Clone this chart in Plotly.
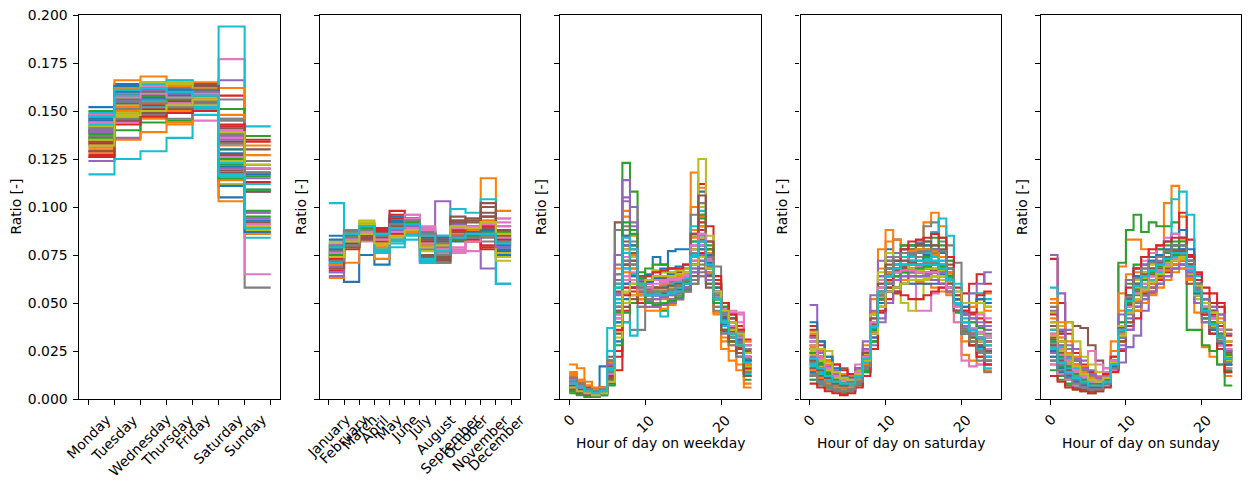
import plotly.graph_objects as go

# ---------------- data ----------------
day_labels = ["Monday", "Tuesday", "Wednesday", "Thursday", "Friday", "Saturday", "Sunday"]
month_labels = ["January", "February", "March", "April", "May", "June", "July",
                "August", "September", "October", "November", "December"]
hour_tick_labels = ["0", "10", "20"]
hour_tick_values = [0, 10, 20]
ratio_ticks = [0.0, 0.025, 0.05, 0.075, 0.1, 0.125, 0.15, 0.175, 0.2]

# ratio per day of week (Mon..Sun), one row per station
weekday_ratio = [
    [0.152, 0.164, 0.160, 0.158, 0.161, 0.105, 0.089],
    [0.130, 0.166, 0.168, 0.166, 0.165, 0.114, 0.091],
    [0.145, 0.156, 0.162, 0.157, 0.158, 0.124, 0.098],
    [0.139, 0.153, 0.156, 0.152, 0.155, 0.158, 0.087],
    [0.124, 0.136, 0.150, 0.155, 0.160, 0.166, 0.109],
    [0.142, 0.158, 0.160, 0.163, 0.164, 0.118, 0.092],
    [0.138, 0.145, 0.148, 0.150, 0.145, 0.177, 0.097],
    [0.136, 0.160, 0.165, 0.162, 0.163, 0.156, 0.058],
    [0.143, 0.155, 0.161, 0.165, 0.160, 0.112, 0.088],
    [0.117, 0.125, 0.129, 0.136, 0.148, 0.194, 0.142],
    [0.148, 0.163, 0.158, 0.150, 0.152, 0.111, 0.118],
    [0.126, 0.135, 0.139, 0.143, 0.150, 0.162, 0.137],
    [0.150, 0.156, 0.163, 0.159, 0.155, 0.122, 0.095],
    [0.126, 0.149, 0.153, 0.152, 0.158, 0.142, 0.120],
    [0.141, 0.150, 0.152, 0.156, 0.158, 0.135, 0.108],
    [0.135, 0.148, 0.155, 0.158, 0.163, 0.117, 0.124],
    [0.133, 0.144, 0.147, 0.150, 0.156, 0.146, 0.124],
    [0.134, 0.145, 0.152, 0.153, 0.152, 0.146, 0.118],
    [0.137, 0.153, 0.157, 0.152, 0.158, 0.130, 0.113],
    [0.140, 0.161, 0.164, 0.166, 0.162, 0.123, 0.084],
    [0.145, 0.152, 0.154, 0.151, 0.153, 0.128, 0.117],
    [0.146, 0.162, 0.165, 0.163, 0.162, 0.103, 0.086],
    [0.132, 0.140, 0.144, 0.145, 0.151, 0.151, 0.137],
    [0.129, 0.147, 0.151, 0.149, 0.152, 0.138, 0.134],
    [0.144, 0.158, 0.160, 0.161, 0.159, 0.121, 0.097],
    [0.140, 0.151, 0.149, 0.155, 0.156, 0.127, 0.122],
    [0.148, 0.160, 0.163, 0.160, 0.161, 0.140, 0.065],
    [0.139, 0.150, 0.156, 0.151, 0.157, 0.138, 0.109],
    [0.142, 0.149, 0.162, 0.164, 0.157, 0.124, 0.090],
    [0.143, 0.159, 0.152, 0.149, 0.151, 0.134, 0.112],
    [0.147, 0.154, 0.157, 0.158, 0.154, 0.130, 0.093],
    [0.128, 0.152, 0.146, 0.144, 0.150, 0.148, 0.132],
    [0.136, 0.155, 0.160, 0.157, 0.161, 0.115, 0.116],
    [0.127, 0.158, 0.153, 0.155, 0.160, 0.134, 0.113],
    [0.139, 0.148, 0.155, 0.152, 0.154, 0.137, 0.115],
    [0.134, 0.157, 0.159, 0.160, 0.163, 0.119, 0.108],
    [0.144, 0.146, 0.150, 0.154, 0.150, 0.136, 0.120],
    [0.141, 0.146, 0.148, 0.146, 0.150, 0.145, 0.124],
    [0.135, 0.147, 0.165, 0.165, 0.153, 0.126, 0.109],
    [0.149, 0.158, 0.155, 0.160, 0.152, 0.117, 0.109],
    [0.146, 0.160, 0.157, 0.161, 0.160, 0.121, 0.087],
    [0.131, 0.150, 0.154, 0.150, 0.156, 0.132, 0.127],
    [0.138, 0.156, 0.158, 0.156, 0.158, 0.125, 0.109],
    [0.133, 0.143, 0.147, 0.149, 0.150, 0.143, 0.135],
    [0.140, 0.155, 0.161, 0.159, 0.160, 0.120, 0.094],
    [0.129, 0.145, 0.149, 0.151, 0.155, 0.141, 0.130],
    [0.144, 0.157, 0.159, 0.157, 0.159, 0.126, 0.091],
    [0.137, 0.151, 0.154, 0.152, 0.155, 0.133, 0.118],
    [0.132, 0.148, 0.150, 0.153, 0.156, 0.139, 0.122],
    [0.147, 0.161, 0.162, 0.160, 0.158, 0.116, 0.089],
]

# ratio per month (Jan..Dec), one row per station
month_ratio = [
    [.085, .061, .075, .070, .093, .094, .088, .085, .091, .089, .095, .060],
    [.063, .071, .083, .073, .085, .090, .080, .078, .087, .088, .115, .084],
    [.076, .081, .088, .084, .086, .090, .079, .078, .088, .090, .089, .082],
    [.067, .078, .084, .089, .098, .094, .084, .083, .086, .084, .079, .083],
    [.064, .083, .084, .080, .086, .088, .078, .103, .087, .083, .068, .080],
    [.072, .084, .085, .082, .088, .089, .071, .071, .093, .094, .100, .090],
    [.074, .088, .082, .087, .089, .096, .089, .077, .076, .077, .086, .094],
    [.079, .086, .091, .086, .083, .087, .083, .071, .083, .085, .085, .082],
    [.082, .084, .092, .085, .084, .090, .077, .080, .090, .082, .086, .077],
    [.102, .081, .086, .076, .079, .083, .071, .085, .099, .097, .104, .060],
    [.080, .085, .087, .083, .095, .091, .087, .084, .082, .086, .087, .075],
    [.068, .082, .090, .078, .086, .087, .083, .083, .084, .085, .088, .098],
    [.075, .079, .086, .082, .087, .091, .082, .079, .090, .089, .092, .084],
    [.069, .081, .084, .088, .096, .094, .085, .081, .087, .084, .078, .087],
    [.070, .083, .089, .084, .090, .092, .086, .076, .089, .087, .088, .079],
    [.073, .080, .083, .083, .087, .088, .074, .073, .095, .094, .102, .088],
    [.077, .085, .087, .085, .092, .096, .090, .079, .077, .083, .087, .094],
    [.078, .088, .091, .084, .087, .089, .087, .076, .084, .086, .082, .081],
    [.080, .083, .093, .080, .087, .089, .084, .078, .086, .088, .085, .072],
    [.066, .079, .086, .076, .083, .087, .071, .080, .089, .089, .093, .083],
    [.083, .080, .088, .085, .094, .090, .083, .082, .086, .087, .086, .077],
    [.071, .081, .089, .081, .086, .086, .082, .078, .084, .087, .093, .086],
    [.077, .082, .085, .084, .086, .091, .080, .080, .092, .088, .090, .081],
    [.072, .079, .086, .085, .092, .093, .084, .083, .083, .082, .086, .085],
    [.066, .081, .085, .086, .089, .090, .084, .077, .091, .085, .090, .083],
    [.075, .082, .084, .082, .088, .090, .072, .072, .093, .092, .097, .087],
    [.081, .087, .085, .086, .089, .093, .086, .076, .078, .084, .086, .090],
    [.076, .086, .089, .083, .086, .088, .085, .074, .085, .087, .085, .086],
    [.078, .085, .090, .083, .085, .087, .082, .079, .087, .086, .088, .074],
    [.071, .082, .087, .078, .082, .086, .073, .081, .088, .090, .091, .082],
    [.079, .084, .086, .084, .092, .092, .086, .083, .085, .085, .087, .078],
    [.068, .080, .088, .079, .085, .087, .080, .079, .086, .086, .092, .085],
    [.074, .081, .089, .083, .087, .089, .081, .079, .089, .090, .088, .083],
    [.070, .080, .085, .087, .094, .092, .085, .082, .085, .083, .080, .084],
    [.069, .082, .087, .085, .087, .091, .083, .078, .088, .086, .089, .080],
    [.074, .083, .086, .084, .089, .089, .075, .074, .092, .093, .095, .086],
    [.076, .084, .086, .084, .090, .094, .088, .080, .079, .082, .087, .092],
    [.077, .087, .090, .085, .086, .090, .084, .075, .084, .088, .084, .083],
    [.081, .086, .091, .082, .086, .088, .083, .079, .087, .087, .085, .076],
    [.073, .080, .088, .077, .081, .085, .072, .082, .090, .089, .092, .081],
    [.078, .083, .088, .084, .089, .091, .084, .080, .087, .087, .088, .080],
    [.070, .079, .086, .083, .088, .090, .080, .078, .088, .088, .092, .085],
    [.075, .085, .089, .086, .090, .092, .086, .077, .083, .085, .087, .087],
    [.073, .081, .087, .082, .086, .089, .082, .080, .088, .089, .090, .083],
    [.080, .084, .090, .085, .088, .090, .085, .079, .085, .086, .086, .079],
    [.068, .079, .085, .084, .090, .091, .083, .082, .087, .086, .089, .085],
    [.076, .083, .087, .083, .087, .089, .081, .078, .089, .090, .091, .084],
    [.072, .080, .088, .085, .091, .093, .086, .081, .084, .084, .085, .082],
    [.074, .082, .086, .081, .085, .088, .079, .080, .090, .089, .092, .086],
    [.079, .086, .090, .086, .089, .091, .085, .077, .084, .086, .086, .081],
]

# ratio per hour (0..23) on weekdays
hour_ratio_weekday = [
    [.006, .004, .003, .003, .017, .020, .040, .060, .062, .058, .065, .074, .070, .077, .078, .078, .085, .108, .070, .050, .035, .030, .022, .015],
    [.018, .016, .009, .006, .006, .012, .045, .080, .075, .055, .052, .055, .054, .057, .060, .065, .118, .110, .072, .045, .030, .025, .018, .008],
    [.010, .007, .004, .003, .004, .018, .065, .123, .108, .063, .050, .048, .046, .050, .052, .056, .070, .082, .070, .050, .038, .030, .024, .010],
    [.008, .005, .004, .003, .004, .010, .015, .040, .065, .058, .056, .058, .055, .055, .058, .062, .075, .112, .090, .060, .045, .038, .030, .020],
    [.009, .006, .005, .004, .005, .020, .060, .114, .100, .060, .052, .050, .050, .052, .055, .058, .068, .075, .065, .050, .040, .035, .030, .022],
    [.007, .005, .003, .002, .004, .022, .092, .085, .065, .057, .055, .054, .056, .057, .057, .058, .060, .064, .058, .050, .042, .036, .032, .025],
    [.012, .008, .005, .004, .005, .014, .040, .058, .060, .055, .058, .062, .064, .066, .062, .060, .066, .068, .070, .060, .050, .045, .045, .030],
    [.006, .004, .003, .002, .003, .012, .088, .080, .036, .036, .055, .058, .060, .062, .060, .062, .066, .070, .069, .069, .045, .036, .030, .020],
    [.007, .005, .003, .003, .004, .010, .035, .055, .060, .060, .058, .058, .057, .060, .062, .064, .080, .125, .078, .050, .036, .030, .024, .015],
    [.010, .007, .005, .004, .006, .037, .055, .040, .033, .048, .055, .056, .043, .058, .063, .066, .070, .072, .066, .055, .045, .040, .035, .028],
    [.005, .003, .002, .002, .003, .012, .048, .072, .070, .062, .056, .055, .056, .056, .058, .060, .070, .076, .066, .052, .040, .034, .028, .018],
    [.014, .010, .007, .005, .006, .018, .055, .095, .088, .062, .054, .052, .052, .054, .056, .060, .100, .095, .068, .048, .032, .028, .022, .012],
    [.004, .003, .002, .002, .003, .012, .045, .068, .078, .062, .058, .057, .058, .058, .061, .063, .075, .083, .080, .055, .042, .034, .027, .018],
    [.008, .006, .004, .004, .005, .013, .022, .050, .058, .052, .054, .056, .056, .057, .058, .062, .080, .088, .082, .062, .048, .042, .036, .028],
    [.011, .008, .006, .005, .006, .016, .055, .103, .092, .058, .051, .052, .053, .055, .057, .060, .072, .078, .068, .050, .038, .032, .027, .020],
    [.006, .004, .003, .003, .004, .014, .060, .078, .072, .064, .057, .056, .056, .057, .058, .060, .070, .074, .064, .050, .040, .035, .030, .022],
    [.009, .006, .004, .003, .004, .011, .038, .064, .064, .058, .056, .058, .060, .062, .064, .066, .080, .086, .074, .056, .045, .046, .044, .026],
    [.007, .005, .004, .003, .004, .016, .070, .090, .080, .060, .054, .054, .055, .056, .057, .058, .062, .066, .060, .048, .038, .032, .026, .018],
    [.006, .004, .003, .002, .003, .011, .042, .066, .068, .060, .057, .058, .059, .061, .062, .064, .085, .100, .085, .055, .040, .034, .028, .016],
    [.008, .006, .004, .003, .005, .025, .060, .072, .068, .059, .056, .055, .055, .056, .058, .064, .082, .085, .072, .053, .041, .036, .030, .021],
    [.006, .004, .003, .002, .004, .013, .050, .085, .080, .061, .054, .054, .054, .055, .057, .060, .072, .090, .075, .052, .039, .033, .027, .017],
    [.013, .009, .006, .005, .005, .016, .052, .070, .068, .058, .055, .056, .057, .058, .059, .062, .088, .096, .070, .044, .026, .020, .015, .006],
    [.005, .003, .002, .002, .003, .010, .048, .080, .088, .066, .057, .055, .055, .056, .058, .061, .078, .096, .078, .052, .038, .032, .026, .014],
    [.009, .006, .004, .003, .005, .015, .025, .046, .054, .056, .060, .062, .061, .060, .062, .064, .074, .080, .078, .064, .050, .044, .038, .031],
    [.008, .005, .004, .003, .004, .012, .044, .060, .062, .058, .058, .058, .060, .061, .063, .065, .076, .082, .072, .056, .045, .038, .033, .024],
    [.007, .005, .004, .003, .004, .014, .056, .082, .076, .062, .055, .054, .055, .056, .056, .058, .064, .068, .060, .050, .043, .037, .033, .026],
    [.010, .007, .005, .004, .005, .013, .046, .074, .070, .058, .056, .057, .058, .060, .062, .064, .078, .084, .073, .058, .047, .044, .040, .028],
    [.005, .004, .003, .002, .003, .010, .065, .070, .060, .048, .052, .056, .058, .060, .058, .058, .060, .064, .062, .052, .040, .034, .029, .021],
    [.007, .005, .004, .003, .004, .013, .050, .078, .074, .060, .055, .056, .057, .058, .060, .062, .078, .090, .074, .052, .040, .033, .026, .014],
    [.009, .007, .005, .004, .005, .020, .050, .068, .065, .058, .055, .058, .059, .060, .061, .063, .075, .080, .070, .055, .044, .038, .033, .024],
    [.004, .003, .002, .001, .002, .008, .030, .052, .058, .054, .062, .066, .068, .068, .069, .070, .078, .080, .070, .056, .042, .034, .026, .016],
    [.012, .009, .006, .005, .006, .019, .068, .098, .085, .052, .046, .046, .047, .049, .052, .056, .070, .078, .066, .052, .044, .040, .036, .030],
    [.003, .002, .001, .001, .002, .007, .028, .045, .050, .062, .068, .070, .070, .068, .068, .066, .070, .072, .068, .058, .048, .040, .032, .020],
    [.009, .007, .005, .004, .005, .014, .038, .058, .056, .050, .060, .064, .066, .064, .066, .068, .086, .092, .070, .050, .038, .032, .026, .016],
    [.007, .005, .003, .002, .003, .015, .075, .105, .090, .054, .048, .048, .049, .050, .052, .056, .066, .072, .062, .050, .040, .036, .030, .022],
    [.011, .008, .006, .005, .006, .017, .034, .048, .052, .056, .062, .064, .063, .064, .066, .068, .074, .076, .072, .060, .050, .042, .034, .024],
    [.006, .004, .003, .002, .003, .009, .044, .062, .066, .064, .060, .062, .062, .063, .064, .064, .072, .080, .070, .054, .040, .034, .028, .018],
    [.008, .006, .004, .003, .005, .020, .062, .088, .082, .056, .050, .050, .050, .051, .054, .058, .096, .102, .074, .046, .034, .028, .022, .014],
    [.005, .004, .003, .002, .003, .011, .032, .050, .054, .058, .064, .067, .066, .066, .067, .068, .078, .084, .074, .058, .044, .036, .028, .017],
    [.010, .007, .005, .004, .005, .015, .052, .076, .072, .060, .054, .055, .054, .056, .058, .062, .090, .098, .076, .050, .038, .032, .024, .013],
    [.006, .005, .003, .002, .004, .012, .040, .060, .064, .062, .061, .063, .064, .065, .064, .066, .074, .078, .071, .058, .046, .038, .031, .020],
    [.013, .010, .007, .005, .006, .016, .046, .066, .062, .054, .056, .058, .060, .062, .064, .066, .084, .090, .076, .054, .040, .034, .028, .018],
    [.004, .003, .002, .002, .003, .010, .058, .092, .086, .060, .050, .049, .050, .051, .053, .057, .082, .094, .078, .050, .036, .030, .024, .012],
    [.007, .005, .004, .003, .004, .012, .036, .054, .058, .060, .064, .066, .067, .068, .068, .070, .076, .076, .070, .060, .050, .044, .036, .022],
    [.009, .006, .004, .003, .004, .018, .054, .080, .078, .062, .056, .054, .053, .054, .056, .058, .068, .074, .068, .054, .044, .038, .032, .024],
    [.005, .003, .002, .002, .003, .011, .046, .070, .072, .064, .058, .058, .058, .059, .060, .062, .086, .106, .082, .052, .036, .030, .024, .012],
    [.008, .006, .004, .003, .004, .013, .042, .064, .062, .057, .058, .060, .061, .062, .063, .065, .080, .086, .072, .056, .044, .038, .032, .022],
    [.011, .008, .005, .004, .005, .014, .048, .072, .070, .058, .055, .056, .056, .057, .059, .062, .076, .082, .074, .056, .044, .040, .035, .026],
    [.006, .004, .003, .002, .003, .009, .038, .056, .060, .060, .062, .064, .064, .064, .065, .066, .070, .074, .068, .056, .046, .040, .034, .024],
    [.008, .006, .004, .003, .004, .016, .058, .084, .078, .060, .054, .054, .054, .055, .056, .060, .074, .082, .070, .052, .040, .034, .028, .019],
]

# ratio per hour (0..23) on saturdays
hour_ratio_saturday = [
    [.020, .014, .010, .008, .007, .008, .012, .020, .040, .060, .078, .083, .080, .078, .077, .075, .070, .068, .060, .048, .036, .032, .030, .028],
    [.030, .025, .018, .012, .010, .010, .016, .028, .052, .078, .088, .083, .080, .078, .080, .092, .097, .090, .072, .040, .023, .020, .018, .015],
    [.012, .008, .006, .004, .003, .004, .008, .015, .030, .048, .060, .070, .076, .078, .082, .082, .084, .080, .068, .045, .035, .030, .028, .025],
    [.036, .022, .015, .012, .010, .008, .012, .020, .032, .045, .052, .055, .060, .062, .064, .066, .066, .065, .062, .058, .055, .060, .065, .060],
    [.049, .030, .020, .015, .012, .010, .012, .016, .028, .042, .050, .056, .060, .062, .064, .065, .066, .065, .062, .052, .045, .055, .060, .066],
    [.028, .022, .020, .018, .016, .012, .014, .020, .034, .052, .062, .066, .068, .068, .068, .068, .066, .064, .058, .048, .040, .036, .034, .032],
    [.015, .010, .008, .006, .005, .008, .018, .025, .045, .062, .072, .070, .068, .060, .046, .046, .055, .058, .055, .040, .020, .017, .018, .020],
    [.018, .012, .009, .007, .006, .007, .010, .018, .030, .052, .065, .068, .070, .072, .076, .090, .092, .082, .080, .071, .048, .036, .020, .014],
    [.025, .030, .025, .018, .010, .010, .015, .023, .040, .058, .062, .058, .050, .046, .052, .062, .064, .068, .065, .052, .040, .035, .045, .040],
    [.010, .007, .005, .004, .004, .005, .010, .018, .036, .055, .066, .070, .072, .074, .076, .078, .087, .094, .085, .060, .038, .030, .025, .016],
    [.024, .018, .012, .010, .008, .008, .013, .024, .044, .064, .072, .074, .074, .072, .070, .068, .066, .064, .058, .046, .034, .030, .026, .024],
    [.027, .020, .014, .011, .009, .009, .014, .026, .045, .068, .082, .076, .072, .070, .069, .070, .075, .072, .062, .046, .030, .034, .052, .055],
    [.016, .011, .008, .006, .005, .006, .010, .018, .034, .050, .058, .062, .068, .078, .080, .080, .078, .076, .066, .048, .036, .033, .030, .026],
    [.033, .024, .016, .012, .010, .009, .013, .022, .036, .050, .056, .058, .062, .064, .066, .068, .062, .060, .058, .050, .044, .045, .052, .048],
    [.022, .016, .011, .008, .007, .007, .010, .014, .026, .040, .056, .064, .070, .072, .074, .074, .072, .070, .066, .056, .045, .040, .038, .036],
    [.026, .019, .014, .011, .009, .010, .013, .021, .038, .055, .064, .067, .069, .070, .069, .068, .068, .066, .060, .048, .038, .034, .032, .030],
    [.019, .014, .010, .008, .007, .008, .013, .022, .040, .058, .066, .068, .072, .080, .082, .078, .074, .070, .060, .046, .034, .028, .022, .018],
    [.021, .015, .011, .009, .008, .008, .012, .020, .036, .054, .068, .072, .074, .075, .074, .072, .070, .068, .062, .048, .036, .030, .026, .022],
    [.023, .017, .013, .010, .009, .009, .014, .024, .042, .060, .066, .068, .070, .066, .062, .062, .066, .067, .064, .050, .038, .034, .032, .030],
    [.017, .012, .009, .007, .006, .007, .011, .019, .037, .056, .064, .068, .070, .071, .072, .073, .074, .072, .064, .050, .042, .050, .055, .052],
    [.030, .022, .016, .012, .010, .010, .014, .022, .040, .056, .062, .064, .066, .066, .066, .066, .066, .065, .060, .050, .040, .036, .034, .032],
    [.020, .015, .011, .008, .007, .008, .012, .020, .038, .056, .064, .068, .070, .070, .070, .070, .070, .068, .060, .048, .036, .032, .030, .026],
    [.026, .019, .014, .010, .009, .009, .013, .021, .036, .052, .060, .064, .068, .070, .072, .074, .076, .074, .066, .050, .036, .030, .027, .024],
    [.032, .022, .016, .012, .010, .009, .012, .020, .034, .048, .058, .062, .064, .066, .066, .066, .064, .062, .058, .052, .046, .044, .042, .040],
    [.018, .013, .010, .008, .007, .008, .014, .026, .046, .064, .068, .066, .066, .066, .066, .066, .066, .064, .058, .046, .036, .032, .030, .028],
    [.024, .018, .013, .010, .009, .009, .013, .021, .039, .056, .064, .066, .068, .068, .068, .068, .067, .066, .060, .048, .038, .034, .032, .030],
    [.021, .015, .011, .009, .008, .009, .013, .022, .040, .058, .066, .068, .070, .070, .069, .068, .068, .066, .060, .046, .034, .030, .028, .026],
    [.019, .014, .010, .008, .007, .008, .012, .020, .036, .054, .064, .068, .070, .070, .070, .071, .071, .070, .064, .050, .038, .032, .028, .024],
    [.028, .020, .015, .011, .009, .009, .013, .021, .037, .053, .061, .064, .066, .067, .067, .068, .068, .066, .061, .050, .040, .036, .034, .032],
    [.020, .014, .010, .008, .007, .008, .012, .020, .037, .055, .064, .068, .070, .072, .072, .072, .072, .070, .063, .049, .037, .033, .031, .028],
    [.014, .010, .007, .005, .004, .005, .009, .016, .032, .052, .066, .074, .078, .080, .081, .080, .078, .076, .068, .052, .038, .032, .027, .022],
    [.034, .026, .020, .016, .013, .012, .016, .024, .040, .054, .060, .062, .062, .062, .061, .060, .058, .056, .054, .050, .046, .048, .050, .046],
    [.010, .008, .006, .004, .003, .004, .007, .014, .030, .050, .068, .076, .080, .080, .078, .078, .080, .084, .072, .050, .034, .028, .022, .018],
    [.038, .028, .022, .018, .015, .013, .016, .022, .038, .052, .056, .056, .054, .052, .052, .054, .056, .058, .056, .052, .046, .050, .054, .056],
    [.022, .016, .012, .009, .008, .009, .016, .030, .054, .072, .074, .070, .066, .064, .064, .064, .066, .066, .060, .048, .038, .034, .032, .030],
    [.016, .012, .008, .006, .005, .006, .010, .018, .034, .052, .062, .068, .074, .078, .080, .082, .080, .078, .070, .050, .034, .028, .024, .020],
    [.030, .022, .016, .012, .010, .010, .014, .022, .038, .054, .060, .062, .064, .064, .064, .064, .064, .062, .058, .050, .044, .042, .044, .042],
    [.012, .008, .006, .004, .004, .004, .008, .016, .034, .058, .072, .076, .078, .078, .077, .076, .076, .074, .066, .048, .034, .028, .024, .018],
    [.026, .020, .015, .012, .010, .010, .014, .024, .044, .066, .076, .074, .070, .068, .066, .064, .064, .062, .056, .046, .036, .032, .030, .028],
    [.018, .013, .010, .008, .007, .007, .011, .019, .036, .054, .064, .070, .074, .076, .076, .076, .074, .072, .064, .048, .036, .030, .026, .022],
    [.040, .030, .022, .016, .012, .011, .014, .022, .036, .050, .056, .058, .060, .060, .060, .060, .060, .060, .058, .052, .048, .050, .052, .050],
    [.015, .011, .008, .006, .005, .006, .010, .018, .035, .055, .066, .072, .076, .077, .078, .078, .077, .074, .066, .050, .036, .030, .025, .020],
    [.024, .018, .013, .010, .008, .008, .012, .020, .036, .052, .060, .064, .066, .067, .068, .069, .070, .069, .064, .054, .044, .040, .037, .034],
    [.008, .006, .004, .003, .002, .003, .006, .012, .026, .046, .062, .072, .078, .082, .083, .084, .086, .084, .074, .054, .036, .028, .022, .018],
    [.032, .024, .017, .013, .011, .010, .014, .022, .038, .054, .060, .062, .064, .064, .064, .064, .062, .060, .056, .050, .044, .042, .040, .038],
    [.020, .015, .011, .008, .007, .008, .013, .024, .042, .060, .070, .072, .072, .071, .070, .070, .070, .068, .060, .046, .036, .032, .028, .025],
    [.028, .021, .016, .012, .010, .010, .014, .022, .040, .058, .064, .066, .067, .067, .066, .066, .066, .064, .058, .048, .040, .037, .035, .033],
    [.013, .009, .007, .005, .004, .005, .009, .017, .034, .054, .068, .074, .076, .076, .076, .077, .078, .077, .068, .050, .036, .030, .025, .020],
    [.035, .026, .019, .014, .011, .010, .013, .020, .034, .048, .056, .058, .060, .062, .062, .063, .064, .064, .062, .056, .050, .050, .050, .048],
    [.021, .016, .012, .009, .008, .008, .012, .021, .038, .056, .064, .068, .070, .070, .070, .070, .070, .068, .062, .050, .040, .036, .032, .028],
]

# ratio per hour (0..23) on sundays
hour_ratio_sunday = [
    [.030, .022, .016, .012, .010, .008, .008, .010, .020, .040, .062, .068, .066, .068, .070, .072, .074, .074, .066, .054, .044, .038, .032, .022],
    [.040, .028, .020, .015, .012, .010, .010, .012, .025, .069, .083, .083, .078, .076, .080, .102, .111, .095, .060, .045, .027, .022, .018, .012],
    [.018, .012, .008, .006, .005, .004, .006, .008, .018, .071, .088, .096, .087, .092, .090, .090, .092, .084, .036, .036, .028, .025, .018, .007],
    [.073, .050, .034, .024, .018, .014, .012, .012, .016, .025, .040, .048, .055, .062, .066, .072, .080, .097, .083, .065, .055, .050, .048, .033],
    [.075, .055, .036, .026, .020, .015, .012, .012, .015, .019, .027, .033, .046, .055, .060, .066, .070, .072, .070, .058, .050, .046, .040, .030],
    [.040, .035, .040, .038, .037, .028, .020, .016, .018, .030, .045, .052, .058, .062, .066, .068, .068, .068, .060, .050, .042, .036, .030, .025],
    [.028, .022, .020, .018, .015, .025, .018, .014, .020, .036, .050, .058, .063, .066, .070, .072, .074, .072, .066, .055, .046, .040, .034, .024],
    [.034, .026, .020, .015, .012, .010, .009, .010, .018, .034, .048, .056, .062, .066, .070, .073, .076, .076, .070, .056, .046, .040, .034, .024],
    [.045, .038, .040, .030, .022, .018, .014, .012, .016, .030, .046, .058, .066, .070, .072, .074, .080, .083, .068, .055, .045, .038, .030, .020],
    [.058, .034, .024, .016, .012, .009, .008, .010, .018, .034, .050, .058, .062, .066, .070, .076, .104, .108, .096, .064, .048, .036, .028, .016],
    [.025, .018, .014, .010, .008, .006, .006, .008, .016, .036, .052, .060, .064, .068, .070, .074, .076, .076, .070, .058, .047, .040, .033, .022],
    [.050, .032, .022, .016, .012, .010, .009, .010, .022, .046, .062, .066, .062, .064, .068, .070, .072, .070, .062, .050, .040, .034, .030, .025],
    [.022, .016, .012, .009, .007, .006, .006, .008, .016, .032, .046, .054, .060, .064, .070, .076, .080, .084, .074, .060, .050, .040, .030, .015],
    [.032, .024, .018, .014, .011, .009, .009, .011, .019, .030, .038, .042, .050, .056, .062, .068, .072, .076, .075, .066, .058, .055, .050, .036],
    [.036, .028, .022, .017, .013, .010, .010, .012, .020, .028, .036, .046, .052, .058, .064, .070, .076, .080, .074, .062, .052, .044, .036, .025],
    [.028, .021, .016, .012, .010, .008, .008, .010, .019, .036, .050, .058, .064, .067, .070, .072, .074, .074, .068, .056, .046, .040, .034, .024],
    [.033, .025, .019, .015, .012, .010, .012, .016, .022, .036, .050, .056, .062, .064, .068, .070, .074, .072, .068, .056, .048, .042, .036, .026],
    [.030, .023, .017, .013, .010, .008, .008, .010, .019, .038, .052, .060, .064, .067, .070, .072, .073, .072, .065, .054, .044, .038, .032, .022],
    [.036, .030, .026, .022, .016, .012, .010, .012, .022, .040, .054, .060, .064, .066, .068, .070, .072, .072, .064, .052, .042, .036, .030, .020],
    [.027, .020, .015, .011, .009, .007, .007, .009, .018, .036, .051, .059, .063, .066, .070, .073, .076, .078, .070, .058, .046, .039, .032, .021],
    [.031, .023, .017, .013, .010, .008, .008, .010, .019, .037, .050, .058, .063, .066, .069, .072, .074, .074, .067, .055, .045, .038, .032, .022],
    [.028, .020, .015, .011, .009, .008, .008, .011, .030, .055, .065, .068, .066, .066, .068, .070, .072, .070, .063, .050, .040, .034, .028, .018],
    [.024, .017, .013, .010, .008, .007, .007, .009, .017, .034, .048, .056, .062, .066, .070, .074, .078, .080, .072, .058, .047, .040, .032, .020],
    [.034, .026, .019, .015, .012, .010, .010, .012, .020, .034, .046, .052, .056, .060, .064, .068, .072, .076, .072, .062, .052, .046, .040, .028],
    [.029, .022, .016, .012, .010, .008, .008, .010, .018, .026, .036, .046, .054, .060, .066, .072, .076, .078, .072, .060, .050, .043, .036, .025],
    [.032, .024, .019, .016, .013, .010, .009, .011, .019, .036, .049, .057, .062, .065, .068, .071, .073, .073, .066, .054, .045, .039, .033, .023],
    [.030, .023, .018, .014, .011, .009, .009, .011, .020, .037, .050, .058, .063, .066, .069, .072, .074, .074, .067, .055, .045, .039, .033, .023],
    [.026, .019, .014, .011, .009, .007, .007, .009, .018, .036, .051, .059, .064, .067, .070, .073, .075, .075, .068, .056, .045, .038, .031, .020],
    [.033, .025, .019, .015, .012, .010, .009, .011, .020, .038, .051, .058, .063, .066, .069, .071, .073, .072, .065, .054, .044, .038, .032, .022],
    [.029, .021, .016, .012, .010, .008, .008, .010, .019, .037, .051, .059, .064, .067, .070, .073, .075, .074, .067, .055, .045, .039, .033, .023],
    [.020, .014, .010, .007, .005, .004, .005, .007, .015, .032, .050, .062, .070, .074, .078, .082, .086, .088, .078, .060, .046, .038, .030, .018],
    [.052, .040, .030, .022, .017, .013, .011, .012, .018, .030, .040, .046, .050, .054, .058, .062, .066, .068, .064, .056, .050, .046, .042, .034],
    [.015, .010, .007, .005, .004, .003, .004, .007, .016, .040, .060, .070, .074, .076, .078, .080, .082, .082, .072, .054, .042, .034, .026, .014],
    [.044, .034, .026, .020, .016, .012, .011, .013, .022, .036, .046, .050, .054, .058, .062, .066, .070, .072, .068, .058, .050, .044, .038, .028],
    [.024, .018, .013, .010, .008, .006, .006, .008, .020, .044, .062, .068, .070, .072, .072, .074, .076, .074, .064, .050, .040, .034, .028, .018],
    [.038, .030, .024, .018, .014, .011, .010, .012, .020, .030, .040, .048, .054, .060, .064, .068, .072, .074, .070, .060, .052, .046, .040, .030],
    [.018, .013, .010, .007, .006, .005, .005, .007, .015, .034, .052, .064, .072, .076, .080, .084, .086, .084, .074, .056, .044, .036, .028, .016],
    [.048, .036, .026, .020, .015, .012, .010, .011, .018, .032, .044, .050, .054, .058, .060, .064, .068, .070, .068, .060, .052, .048, .044, .036],
    [.026, .019, .014, .011, .009, .007, .007, .009, .018, .038, .054, .062, .066, .068, .070, .072, .074, .073, .066, .054, .044, .038, .031, .020],
    [.036, .027, .021, .016, .012, .010, .009, .011, .020, .034, .046, .052, .058, .062, .066, .070, .074, .076, .070, .058, .048, .042, .036, .026],
    [.022, .016, .012, .009, .007, .006, .006, .008, .017, .036, .054, .064, .068, .072, .075, .078, .080, .078, .070, .055, .044, .036, .029, .018],
    [.042, .032, .024, .018, .014, .011, .010, .012, .020, .034, .045, .051, .056, .060, .063, .067, .070, .072, .068, .058, .050, .045, .040, .030],
    [.030, .022, .017, .013, .010, .008, .008, .010, .019, .036, .050, .057, .062, .066, .069, .072, .075, .076, .069, .056, .046, .040, .034, .023],
    [.012, .009, .006, .005, .004, .003, .004, .006, .014, .036, .058, .068, .074, .078, .080, .082, .084, .084, .074, .058, .044, .034, .026, .014],
    [.046, .036, .028, .021, .016, .013, .011, .012, .019, .032, .042, .048, .052, .056, .060, .064, .068, .070, .066, .058, .052, .048, .044, .034],
    [.028, .020, .015, .011, .009, .007, .007, .009, .018, .037, .052, .060, .065, .068, .071, .074, .077, .077, .070, .057, .046, .039, .032, .021],
    [.034, .026, .020, .015, .012, .009, .009, .011, .020, .036, .048, .055, .060, .064, .067, .070, .073, .074, .068, .057, .048, .042, .036, .026],
    [.020, .015, .011, .008, .006, .005, .005, .008, .016, .035, .053, .063, .068, .071, .074, .077, .080, .080, .072, .057, .045, .037, .030, .019],
    [.040, .030, .023, .017, .013, .010, .009, .011, .019, .033, .045, .052, .057, .061, .065, .069, .072, .074, .069, .059, .050, .045, .040, .030],
    [.026, .019, .014, .011, .009, .007, .007, .009, .018, .036, .051, .059, .064, .067, .070, .073, .076, .076, .069, .056, .046, .039, .032, .021],
]

# ---------------- style ----------------
W, H = 1251, 486
TAB10 = ["#1f77b4", "#ff7f0e", "#2ca02c", "#d62728", "#9467bd",
         "#8c564b", "#e377c2", "#7f7f7f", "#bcbd22", "#17becf"]
FONT = "DejaVu Sans"
FS = 13.9
LW = 2.08
SPINE = 1.1
TICKLEN = 4.86

ax_left_px = [79.3, 319.7, 560.1, 800.5, 1040.9]
ax_width_px = 200.5
ax_top_px, ax_bot_px = 15, 399

panels = [
    dict(rows=weekday_ratio, labels=day_labels, n=7, xtitle=None),
    dict(rows=month_ratio, labels=month_labels, n=12, xtitle=None),
    dict(rows=hour_ratio_weekday, labels=None, n=24, xtitle="Hour of day on weekday"),
    dict(rows=hour_ratio_saturday, labels=None, n=24, xtitle="Hour of day on saturday"),
    dict(rows=hour_ratio_sunday, labels=None, n=24, xtitle="Hour of day on sunday"),
]

fig = go.Figure()
annotations = []
label_y = (H - (ax_bot_px + 2 * TICKLEN)) / H

for i, p in enumerate(panels):
    k = i + 1
    xname = "x" if k == 1 else f"x{k}"
    yname = "y" if k == 1 else f"y{k}"
    n = p["n"]
    edges = list(range(n + 1))
    for j, row in enumerate(p["rows"]):
        fig.add_trace(go.Scatter(
            x=edges, y=list(row) + [row[-1]], mode="lines",
            line=dict(color=TAB10[j % 10], width=LW, shape="hv"),
            xaxis=xname, yaxis=yname, showlegend=False, hoverinfo="skip"))

    margin = 0.05 * n
    if p["labels"] is not None:
        tickvals = edges
        label_pos = list(range(n))
        label_txt = p["labels"]
    else:
        tickvals = hour_tick_values
        label_pos = hour_tick_values
        label_txt = hour_tick_labels

    l = ax_left_px[i]
    fig.layout[f"xaxis{'' if k == 1 else k}"] = dict(
        domain=[l / W, (l + ax_width_px) / W], range=[-margin, n + margin],
        anchor=yname, tickmode="array", tickvals=tickvals, showticklabels=False,
        ticks="outside", ticklen=TICKLEN, tickwidth=SPINE, tickcolor="black",
        showline=True, linecolor="black", linewidth=SPINE, mirror=True,
        showgrid=False, zeroline=False, automargin=False)
    fig.layout[f"yaxis{'' if k == 1 else k}"] = dict(
        domain=[(H - ax_bot_px) / H, (H - ax_top_px) / H], range=[0, 0.2],
        anchor=xname, tickmode="array", tickvals=ratio_ticks, tickformat=".3f",
        showticklabels=(k == 1), ticks="outside", ticklen=TICKLEN, tickwidth=SPINE,
        tickcolor="black", ticklabelstandoff=3,
        tickfont=dict(family=FONT, size=FS, color="black"),
        showline=True, linecolor="black", linewidth=SPINE, mirror=True,
        showgrid=False, zeroline=False, automargin=False)

    # rotated tick labels (centered on tick, like matplotlib rotation=45)
    for pos, txt in zip(label_pos, label_txt):
        annotations.append(dict(
            x=pos, xref=xname, y=label_y, yref="paper", text=txt, showarrow=False,
            textangle=-45, xanchor="center", yanchor="top",
            font=dict(family=FONT, size=FS, color="black")))

    # y-axis title
    ytitle_x = 15.5 if k == 1 else l - 19
    annotations.append(dict(
        x=ytitle_x / W, xref="paper", y=(H - (ax_top_px + ax_bot_px) / 2) / H, yref="paper",
        text="Ratio [-]", showarrow=False, textangle=-90, xanchor="center", yanchor="middle",
        font=dict(family=FONT, size=FS, color="black")))

    if p["xtitle"]:
        annotations.append(dict(
            x=(l + ax_width_px / 2) / W, xref="paper", y=(H - 443) / H, yref="paper",
            text=p["xtitle"], showarrow=False, xanchor="center", yanchor="middle",
            font=dict(family=FONT, size=FS, color="black")))

fig.update_layout(
    width=W, height=H, margin=dict(l=0, r=0, t=0, b=0),
    paper_bgcolor="white", plot_bgcolor="white",
    font=dict(family=FONT, size=FS, color="black"),
    annotations=annotations, showlegend=False)

fig.write_html("out.html")
